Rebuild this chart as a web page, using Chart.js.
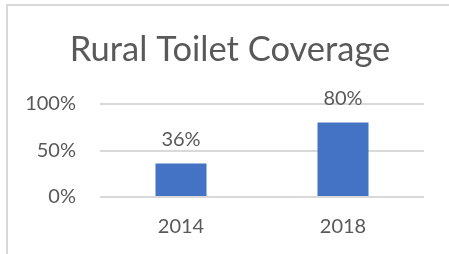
<!DOCTYPE html>
<html>
<head>
<meta charset="utf-8">
<script src="https://cdn.jsdelivr.net/npm/chart.js@4.4.0/dist/chart.umd.min.js"></script>
<style>
    html, body { margin: 0; padding: 0; background: #fff; }
    #wrap { position: relative; width: 449px; height: 254px; overflow: hidden; }
    /* cornice grigia del grafico (solo lato sinistro e superiore visibili) */
    #frame { position: absolute; left: 6px; top: 4px; width: 460px; height: 270px;
             border-left: 2px solid #d9d9d9; border-top: 2px solid #d9d9d9; }
    #myChart { position: absolute; left: 0; top: 0; }
</style>
</head>
<body>
<div id="wrap">
    <div id="frame"></div>
    <canvas id="myChart" width="449" height="254"></canvas>
</div>
<script>
// Dati del grafico
const categories = ['2014', '2018'];
const coverageValues = [36, 80];
const tickValues = [0, 50, 100];
const chartTitle = 'Rural Toilet Coverage';

const textColor = '#595959';
const fontFamily = 'Lato, "Open Sans", sans-serif';

// Plugin per disegnare le etichette dei valori sopra le barre
const valueLabels = {
    id: 'valueLabels',
    afterDatasetsDraw(chart) {
        const ctx = chart.ctx;
        const meta = chart.getDatasetMeta(0);
        ctx.save();
        ctx.fillStyle = textColor;
        ctx.font = '20px ' + fontFamily;
        ctx.textAlign = 'center';
        ctx.textBaseline = 'alphabetic';
        meta.data.forEach((bar, i) => {
            ctx.fillText(chart.data.datasets[0].data[i] + '%', bar.x, bar.y - 18);
        });
        ctx.restore();
    }
};

const ctx = document.getElementById('myChart').getContext('2d');
const myChart = new Chart(ctx, {
    type: 'bar',
    data: {
        labels: categories,
        datasets: [{
            label: chartTitle,
            data: coverageValues,
            backgroundColor: '#4472C4',
            borderWidth: 0,
            barPercentage: 0.315,
            categoryPercentage: 1
        }]
    },
    options: {
        responsive: false,
        animation: false,
        // il titolo viene centrato tra 11 e 449 px (come nel riferimento)
        layout: { padding: { left: 11, right: 0, top: 0, bottom: 0 } },
        plugins: {
            legend: { display: false },
            tooltip: { enabled: false },
            title: {
                display: true,
                text: chartTitle,
                color: textColor,
                font: { family: fontFamily, size: 34.5, weight: 'normal', lineHeight: 1.2 },
                padding: { top: 29.3, bottom: 33.3 }
            }
        },
        scales: {
            x: {
                grid: { display: false },
                border: { display: false },
                ticks: {
                    color: textColor,
                    font: { family: fontFamily, size: 20 },
                    padding: 10
                },
                afterFit(scale) { scale.height = 57; }
            },
            y: {
                min: 0,
                max: 100,
                afterBuildTicks(scale) {
                    scale.ticks = tickValues.map(v => ({ value: v }));
                },
                grid: { color: '#d9d9d9', lineWidth: 2, drawTicks: false },
                border: { display: false },
                ticks: {
                    color: textColor,
                    font: { family: fontFamily, size: 20 },
                    padding: 24,
                    callback: v => v + '%'
                },
                afterFit(scale) { scale.width = 89; }
            },
            // asse vuoto a destra, serve solo per il margine destro dell'area del grafico
            spacer: {
                position: 'right',
                min: 0,
                max: 100,
                grid: { display: false },
                border: { display: false },
                ticks: { display: false },
                afterFit(scale) { scale.width = 25; }
            }
        }
    },
    plugins: [valueLabels]
});
</script>
</body>
</html>
